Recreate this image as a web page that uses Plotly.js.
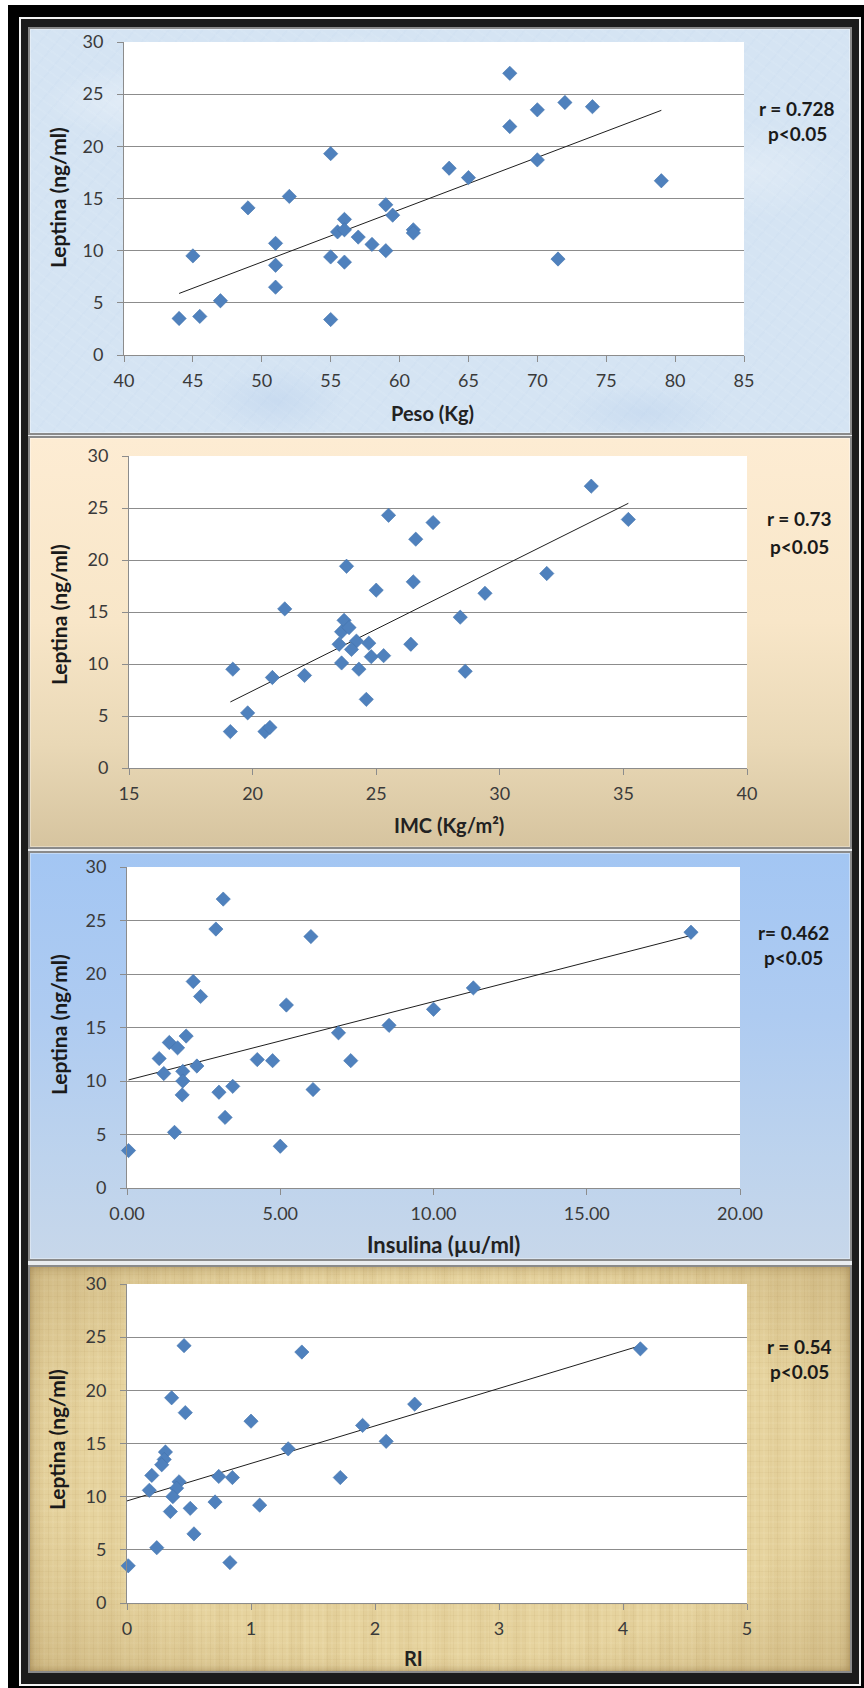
<!DOCTYPE html>
<html>
<head>
<meta charset="utf-8">
<script src="https://cdn.plot.ly/plotly-3.0.1.min.js"></script>
<style>
  html, body { margin:0; padding:0; background:#ffffff; }
  body { width:864px; height:1688px; position:relative; overflow:hidden; }
  .abs { position:absolute; box-sizing:border-box; }
  #outer { left:8px; top:5px; width:856px; height:1683px; background:#000; }
  #wline { left:19px; top:17px; width:842px; height:1669px; border:2px solid #f4f4f4; background:#1c1c1c; }
  #light { left:28px; top:27px; width:824px; height:1646px; background:#e9ecef; }
  .panel { left:28px; width:824px; border:2px solid #8a8a8a; box-shadow: inset 0 0 0 1px rgba(255,255,255,0.35); }
  #p1 { top:27px; height:408px;
    background-color:#d5e4f3;
    background-image:
      radial-gradient(ellipse 120px 50px at 12% 18%, rgba(255,255,255,0.30), transparent 70%),
      radial-gradient(ellipse 160px 60px at 58% 72%, rgba(255,255,255,0.25), transparent 70%),
      radial-gradient(ellipse 140px 70px at 88% 35%, rgba(255,255,255,0.25), transparent 70%),
      radial-gradient(ellipse 90px 40px at 40% 8%, rgba(255,255,255,0.30), transparent 70%),
      radial-gradient(ellipse 100px 50px at 30% 92%, rgba(185,208,236,0.45), transparent 70%),
      radial-gradient(ellipse 120px 40px at 75% 95%, rgba(185,208,236,0.40), transparent 70%),
      repeating-linear-gradient(35deg, rgba(255,255,255,0.06) 0 2px, transparent 2px 9px),
      repeating-linear-gradient(-50deg, rgba(175,200,230,0.07) 0 2px, transparent 2px 13px);
  }
  #p2 { top:436px; height:413px;
    background:linear-gradient(to bottom, #fdecd3 0%, #f8e6c8 45%, #e9d8b6 75%, #d6c49f 100%);
  }
  #p3 { top:851px; height:410px;
    background:linear-gradient(to bottom, #a3c6f3 0%, #aecbf1 40%, #bdd3ed 75%, #c7d7ea 100%);
  }
  #p4 { top:1265px; height:408px;
    background-color:#e6d39e;
    background-image:
      radial-gradient(ellipse at 50% 50%, transparent 65%, rgba(130,95,40,0.22) 100%),
      repeating-linear-gradient(90deg, rgba(150,115,55,0.07) 0 1px, transparent 1px 4px, rgba(255,248,220,0.08) 4px 6px, transparent 6px 9px),
      repeating-linear-gradient(0deg, rgba(150,115,55,0.06) 0 1px, transparent 1px 5px, rgba(255,248,220,0.07) 5px 7px, transparent 7px 11px),
      repeating-linear-gradient(90deg, rgba(175,140,75,0.06) 0 14px, transparent 14px 37px);
    box-shadow: inset 0 0 10px rgba(110,80,30,0.45);
  }
  #chart { position:absolute; left:0; top:0; width:864px; height:1688px; }
</style>
</head>
<body>
<div id="outer" class="abs"></div>
<div id="wline" class="abs"></div>
<div id="light" class="abs"></div>
<div id="p1" class="abs panel"></div>
<div id="p2" class="abs panel"></div>
<div id="p3" class="abs panel"></div>
<div id="p4" class="abs panel"></div>
<div id="chart"></div>
<script>
// ---------- DATA ----------
// Panel 1: Peso (Kg) vs Leptina (ng/ml)
const peso        = [68, 72, 74, 70, 68, 55, 70, 63.6, 65, 79, 52, 49, 59, 59.5, 56, 55.5, 56, 57, 61, 61, 58, 59, 51, 45, 55, 51, 56, 71.5, 51, 47, 44, 45.5, 55];
const leptinaPeso = [27.0, 24.2, 23.8, 23.5, 21.9, 19.3, 18.7, 17.9, 17.0, 16.7, 15.2, 14.1, 14.4, 13.4, 13.0, 11.8, 12.0, 11.3, 12.0, 11.7, 10.6, 10.0, 10.7, 9.5, 9.4, 8.6, 8.9, 9.2, 6.5, 5.2, 3.5, 3.7, 3.4];
const pesoTrendX  = [44, 79];
const pesoTrendY  = [5.9, 23.45];

// Panel 2: IMC (Kg/m²) vs Leptina
const imc        = [33.7, 25.5, 27.3, 35.2, 26.6, 23.8, 31.9, 26.5, 25.0, 29.4, 21.3, 28.4, 23.7, 23.6, 23.9, 23.5, 24.2, 24.0, 24.7, 26.4, 24.8, 25.3, 23.6, 19.2, 24.3, 28.6, 20.8, 22.1, 24.6, 19.8, 19.1, 20.5, 20.7];
const leptinaImc = [27.1, 24.3, 23.6, 23.9, 22.0, 19.4, 18.7, 17.9, 17.1, 16.8, 15.3, 14.5, 14.2, 13.1, 13.5, 11.9, 12.2, 11.4, 12.0, 11.9, 10.7, 10.8, 10.1, 9.5, 9.5, 9.3, 8.7, 8.9, 6.6, 5.3, 3.5, 3.5, 3.9];
const imcTrendX  = [19.1, 35.2];
const imcTrendY  = [6.35, 25.45];

// Panel 3: Insulina (µu/ml) vs Leptina
const insulina        = [3.14, 2.9, 6.0, 18.4, 2.16, 2.4, 11.3, 5.2, 10.0, 8.55, 6.9, 1.93, 1.38, 1.65, 1.05, 1.2, 2.28, 1.82, 1.82, 4.25, 4.75, 7.3, 3.45, 3.0, 1.8, 6.07, 3.2, 1.55, 5.0, 0.05];
const leptinaInsulina = [27.0, 24.2, 23.5, 23.9, 19.3, 17.9, 18.7, 17.1, 16.7, 15.2, 14.5, 14.2, 13.6, 13.1, 12.1, 10.7, 11.4, 10.9, 10.0, 12.0, 11.9, 11.9, 9.5, 8.95, 8.7, 9.2, 6.6, 5.2, 3.9, 3.5];
const insulinaTrendX  = [0.05, 18.4];
const insulinaTrendY  = [10.1, 23.6];

// Panel 4: RI vs Leptina
const ri        = [0.46, 1.41, 4.14, 0.36, 0.47, 2.32, 1.0, 1.9, 2.09, 1.3, 0.31, 0.30, 0.28, 0.2, 0.18, 0.42, 0.40, 0.37, 0.74, 0.85, 1.72, 0.71, 0.51, 0.35, 1.07, 0.54, 0.24, 0.83, 0.01];
const leptinaRi = [24.2, 23.6, 23.9, 19.3, 17.9, 18.7, 17.1, 16.7, 15.2, 14.5, 14.2, 13.5, 13.0, 12.0, 10.6, 11.4, 10.8, 10.0, 11.9, 11.8, 11.8, 9.5, 8.9, 8.6, 9.2, 6.5, 5.2, 3.8, 3.5];
const riTrendX  = [0, 4.14];
const riTrendY  = [9.6, 24.2];

// Labels
const yTitle   = 'Leptina (ng/ml)';
const xTitles  = ['Peso (Kg)', 'IMC (Kg/m²)', 'Insulina (µu/ml)', 'RI'];
const rTexts   = ['r = 0.728', 'r = 0.73', 'r= 0.462', 'r = 0.54'];
const pText    = 'p&lt;0.05';

// ---------- LAYOUT ----------
const W = 864, H = 1688;
const px = (a, b) => [a / W, b / W];
const py = (top, bottom) => [1 - bottom / H, 1 - top / H];
const fx = v => v / W;
const fy = v => 1 - v / H;

const FONT = 'Lato, "Open Sans", sans-serif';
const markerStyle = { symbol: 'diamond', size: 11, color: '#4f81bd', line: { color: '#4373ad', width: 0.6 } };
const trendStyle = { color: '#1e1e1e', width: 1 };

function xa(domain, range, dtick, fmt, anchor) {
  return {
    domain, range, dtick, tick0: range[0], tickformat: fmt || '', anchor,
    showline: true, linecolor: '#8c8c8c', linewidth: 1,
    ticks: 'outside', ticklen: 6, tickcolor: '#8c8c8c', tickwidth: 1,
    ticklabelstandoff: 3,
    tickfont: { family: FONT, size: 18, color: '#3a3a3a' },
    showgrid: false, zeroline: false, fixedrange: true
  };
}
function ya(domain, anchor) {
  return {
    domain, range: [0, 30], dtick: 5, tick0: 0, anchor,
    showline: true, linecolor: '#8c8c8c', linewidth: 1,
    ticks: 'outside', ticklen: 6, tickcolor: '#8c8c8c', tickwidth: 1,
    ticklabelstandoff: 10,
    tickfont: { family: FONT, size: 18, color: '#3a3a3a' },
    showgrid: true, gridcolor: '#8c8c8c', gridwidth: 1,
    zeroline: false, fixedrange: true
  };
}

const panels = [
  { x: peso, y: leptinaPeso, tx: pesoTrendX, ty: pesoTrendY, xd: px(124, 744), yd: py(42, 355), range: [40, 85], dtick: 5, fmt: '' },
  { x: imc, y: leptinaImc, tx: imcTrendX, ty: imcTrendY, xd: px(129, 747), yd: py(456, 768), range: [15, 40], dtick: 5, fmt: '' },
  { x: insulina, y: leptinaInsulina, tx: insulinaTrendX, ty: insulinaTrendY, xd: px(127, 740), yd: py(867, 1188), range: [0, 20], dtick: 5, fmt: '.2f' },
  { x: ri, y: leptinaRi, tx: riTrendX, ty: riTrendY, xd: px(127, 747), yd: py(1284, 1603), range: [0, 5], dtick: 1, fmt: '' }
];

const traces = [];
const layout = {
  width: W, height: H,
  margin: { l: 0, r: 0, t: 0, b: 0 },
  paper_bgcolor: 'rgba(0,0,0,0)',
  plot_bgcolor: '#ffffff',
  showlegend: false,
  hovermode: false,
  annotations: []
};

panels.forEach((p, i) => {
  const n = i === 0 ? '' : String(i + 1);
  traces.push({ type: 'scatter', mode: 'lines', x: p.tx, y: p.ty, xaxis: 'x' + n, yaxis: 'y' + n, line: trendStyle, cliponaxis: false });
  traces.push({ type: 'scatter', mode: 'markers', x: p.x, y: p.y, xaxis: 'x' + n, yaxis: 'y' + n, marker: markerStyle, cliponaxis: false });
  layout['xaxis' + n] = xa(p.xd, p.range, p.dtick, p.fmt, 'y' + n);
  layout['yaxis' + n] = ya(p.yd, 'x' + n);
});

// Axis titles and correlation texts (pixel centres)
const yTitlePos = [[58, 198], [58, 615], [58, 1025], [56, 1440]];
const xTitlePos = [[432, 413], [449, 825], [443, 1244], [413, 1658]];
const xTitleSize = [20, 20, 22, 20];
const rPos = [[797, 109, 133], [799, 519, 546], [793, 932, 958], [799, 1346, 1371]];

for (let i = 0; i < 4; i++) {
  layout.annotations.push({
    xref: 'paper', yref: 'paper', x: fx(yTitlePos[i][0]), y: fy(yTitlePos[i][1]),
    xanchor: 'center', yanchor: 'middle', textangle: -90, showarrow: false,
    text: '<b>' + yTitle + '</b>', font: { family: FONT, size: 21, color: '#1a1a1a' }
  });
  layout.annotations.push({
    xref: 'paper', yref: 'paper', x: fx(xTitlePos[i][0]), y: fy(xTitlePos[i][1]),
    xanchor: 'center', yanchor: 'middle', showarrow: false,
    text: '<b>' + xTitles[i] + '</b>',
    font: { family: FONT, size: xTitleSize[i], color: '#222222' }
  });
  layout.annotations.push({
    xref: 'paper', yref: 'paper', x: fx(rPos[i][0]), y: fy(rPos[i][1]),
    xanchor: 'center', yanchor: 'middle', showarrow: false,
    text: '<b>' + rTexts[i] + '</b>', font: { family: FONT, size: 19, color: '#1a1a1a' }
  });
  layout.annotations.push({
    xref: 'paper', yref: 'paper', x: fx(rPos[i][0]), y: fy(rPos[i][2]),
    xanchor: 'center', yanchor: 'middle', showarrow: false,
    text: '<b>' + pText + '</b>', font: { family: FONT, size: 19, color: '#1a1a1a' }
  });
}

Plotly.newPlot('chart', traces, layout, { staticPlot: true, displayModeBar: false });
</script>
</body>
</html>
